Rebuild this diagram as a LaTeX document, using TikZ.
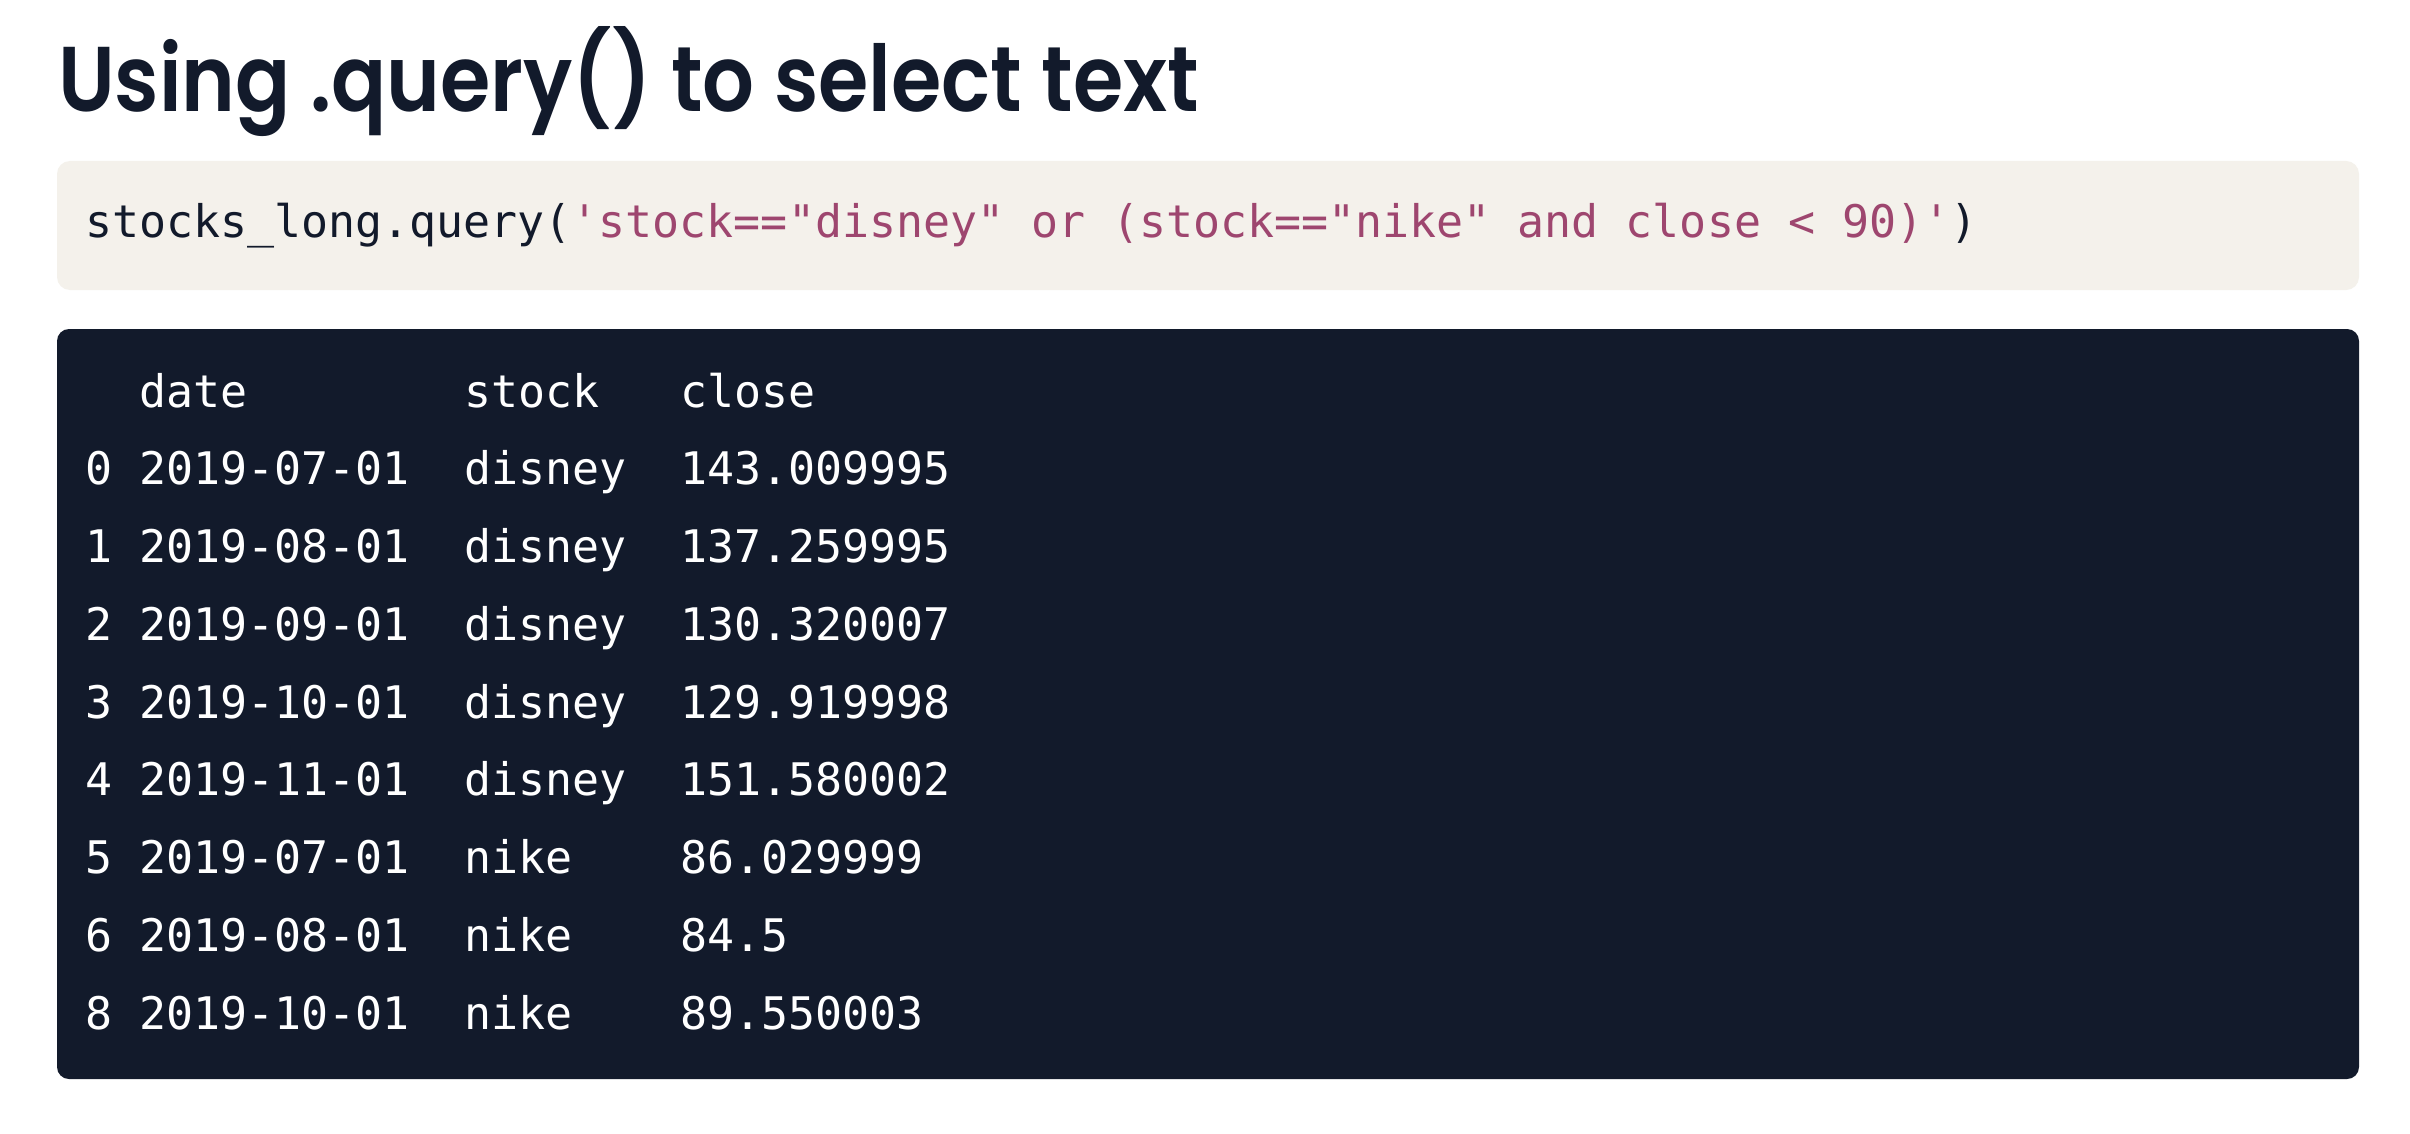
\documentclass[tikz,border=0pt]{standalone}
\usepackage{fontspec}
\newfontfamily\titlefont{Poppins}[BoldFont={* SemiBold},FakeStretch=0.885]
\newfontfamily\codefont{DejaVu Sans Mono}
\definecolor{navy}{HTML}{121A2B}
\definecolor{codebg}{HTML}{F4F1EB}
\definecolor{strcol}{HTML}{9E466F}
\begin{document}
\begin{tikzpicture}[x=1pt,y=-1pt,
  cell/.style={anchor=base west,inner sep=0pt,text=white,font=\codefont\fontsize{44.9}{50}\selectfont}]
\useasboundingbox (0,0) rectangle (2410,1134);
\fill[white] (0,0) rectangle (2410,1134);
\node[anchor=base west,inner sep=0pt,text=navy,font=\titlefont\bfseries\fontsize{92}{100}\selectfont] (title) at (58,112) {Using .query() to select text};
\fill[codebg,rounded corners=13pt] (57,161) rectangle (2359,290);
\node[anchor=base west,inner sep=0pt,text=navy,font=\codefont\fontsize{44.9}{50}\selectfont] (code) at (85,238)
 {stocks\textunderscore long.query(\textcolor{strcol}{'stock=="disney" or (stock=="nike" and close < 90)'})};
\fill[navy,rounded corners=12pt] (57,329) rectangle (2359,1079);
\node[cell] (h1) at (139,407) {date};
\node[cell] (h2) at (464,407) {stock};
\node[cell] (h3) at (680,407) {close};
\foreach \i/\d/\s/\c [count=\k from 1] in {0/2019-07-01/disney/143.009995,1/2019-08-01/disney/137.259995,2/2019-09-01/disney/130.320007,3/2019-10-01/disney/129.919998,4/2019-11-01/disney/151.580002,5/2019-07-01/nike/86.029999,6/2019-08-01/nike/84.5,8/2019-10-01/nike/89.550003}{
  \node[cell] (r\k a) at (85,407+77.75*\k) {\i};
  \node[cell] (r\k b) at (139,407+77.75*\k) {\d};
  \node[cell] (r\k c) at (464,407+77.75*\k) {\s};
  \node[cell] (r\k d) at (680,407+77.75*\k) {\c};
}
\end{tikzpicture}
\end{document}
